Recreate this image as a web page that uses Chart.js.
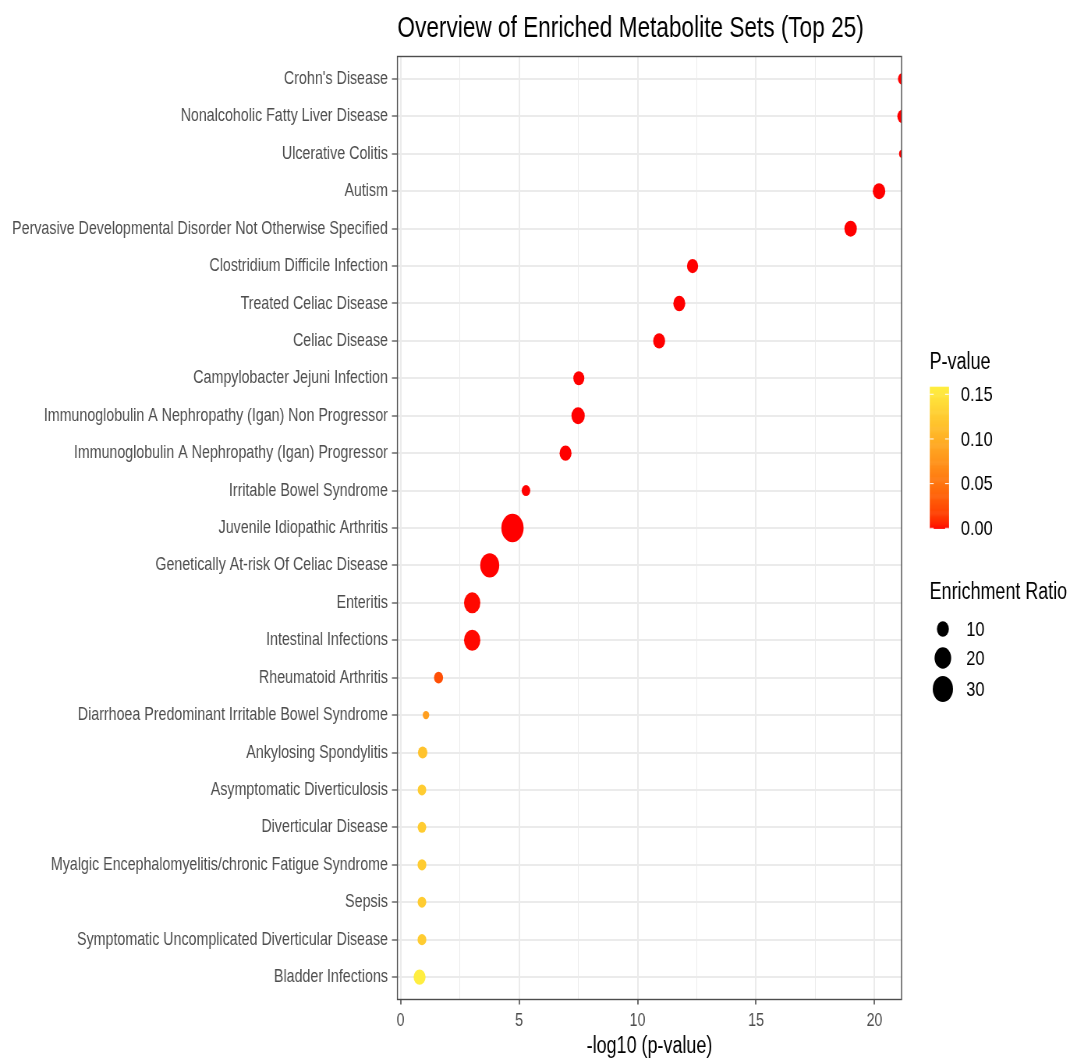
<!DOCTYPE html>
<html>
<head>
<meta charset="utf-8">
<script src="https://cdn.jsdelivr.net/npm/chart.js@4"></script>
<style>
  html, body { margin: 0; padding: 0; background: #ffffff; }
  canvas { display: block; }
</style>
</head>
<body>
<!-- The drawing surface is laid out 1381 px wide and shown 1077 px wide. -->
<canvas id="chart" width="1381" height="1058" style="width:1077px;height:1058px"></canvas>
<script>
// ---- Data -------------------------------------------------------------
const metaboliteSets = [
  "Crohn's Disease",
  "Nonalcoholic Fatty Liver Disease",
  "Ulcerative Colitis",
  "Autism",
  "Pervasive Developmental Disorder Not Otherwise Specified",
  "Clostridium Difficile Infection",
  "Treated Celiac Disease",
  "Celiac Disease",
  "Campylobacter Jejuni Infection",
  "Immunoglobulin A Nephropathy (Igan) Non Progressor",
  "Immunoglobulin A Nephropathy (Igan) Progressor",
  "Irritable Bowel Syndrome",
  "Juvenile Idiopathic Arthritis",
  "Genetically At-risk Of Celiac Disease",
  "Enteritis",
  "Intestinal Infections",
  "Rheumatoid Arthritis",
  "Diarrhoea Predominant Irritable Bowel Syndrome",
  "Ankylosing Spondylitis",
  "Asymptomatic Diverticulosis",
  "Diverticular Disease",
  "Myalgic Encephalomyelitis/chronic Fatigue Syndrome",
  "Sepsis",
  "Symptomatic Uncomplicated Diverticular Disease",
  "Bladder Infections"
];

// -log10(p-value) for each set
const negLog10P = [
  21.18, 21.19, 21.17, 20.19, 18.99,
  12.32, 11.76, 10.91, 7.52, 7.49,
  6.96, 5.29, 4.72, 3.76, 3.02,
  3.02, 1.60, 1.07, 0.93, 0.90,
  0.90, 0.90, 0.90, 0.90, 0.80
];

// enrichment ratio for each set
const enrichmentRatio = [
  6.5, 9.0, 3.2, 12.1, 12.1,
  9.7, 11.1, 11.1, 9.3, 13.7,
  11.1, 5.7, 38.7, 27.9, 20.8,
  20.8, 6.4, 3.3, 6.8, 5.7,
  5.7, 6.0, 5.7, 6.0, 11.1
];

const xMajorTicks = [0, 5, 10, 15, 20];
const xMinorTicks = [2.5, 7.5, 12.5, 17.5];
const pValueTicks = [0.00, 0.05, 0.10, 0.15];
const ratioTicks = [10, 20, 30];

// ---- Styling helpers --------------------------------------------------
const FONT = '"Liberation Sans", Arial, Helvetica, sans-serif';
const LOW_COLOR = [255, 0, 0];
const HIGH_COLOR = [255, 238, 64];

const pValues = negLog10P.map(v => Math.pow(10, -v));
const pMin = Math.min(...pValues);
const pMax = Math.max(...pValues);

function toLinear(c) { c /= 255; return c <= 0.04045 ? c / 12.92 : Math.pow((c + 0.055) / 1.055, 2.4); }
function fromLinear(c) { const v = c <= 0.0031308 ? 12.92 * c : 1.055 * Math.pow(c, 1 / 2.4) - 0.055; return Math.max(0, Math.min(255, Math.round(v * 255))); }
const XN = 0.95047, YN = 1.0, ZN = 1.08883;
function labF(t) { return t > 0.008856 ? Math.cbrt(t) : 7.787 * t + 16 / 116; }
function labFInv(t) { return t > 0.206893 ? t * t * t : (t - 16 / 116) / 7.787; }
function rgbToLab(rgb) {
  const r = toLinear(rgb[0]), g = toLinear(rgb[1]), b = toLinear(rgb[2]);
  const x = (0.4124564 * r + 0.3575761 * g + 0.1804375 * b) / XN;
  const y = (0.2126729 * r + 0.7151522 * g + 0.0721750 * b) / YN;
  const z = (0.0193339 * r + 0.1191920 * g + 0.9503041 * b) / ZN;
  const fx = labF(x), fy = labF(y), fz = labF(z);
  return [116 * fy - 16, 500 * (fx - fy), 200 * (fy - fz)];
}
function labToRgb(lab) {
  const fy = (lab[0] + 16) / 116, fx = fy + lab[1] / 500, fz = fy - lab[2] / 200;
  const x = labFInv(fx) * XN, y = labFInv(fy) * YN, z = labFInv(fz) * ZN;
  const r = 3.2404542 * x - 1.5371385 * y - 0.4985314 * z;
  const g = -0.9692660 * x + 1.8760108 * y + 0.0415560 * z;
  const b = 0.0556434 * x - 0.2040259 * y + 1.0572252 * z;
  return [fromLinear(r), fromLinear(g), fromLinear(b)];
}
const LOW_LAB = rgbToLab(LOW_COLOR), HIGH_LAB = rgbToLab(HIGH_COLOR);
function colorForP(p) {
  const t = Math.max(0, Math.min(1, (p - pMin) / (pMax - pMin)));
  const lab = LOW_LAB.map((v, i) => v + (HIGH_LAB[i] - v) * t);
  const c = labToRgb(lab);
  return `rgb(${c[0]},${c[1]},${c[2]})`;
}
function radiusForRatio(r) { return 2.3 * Math.sqrt(r); }

const isMajor = v => xMajorTicks.includes(v);

// ---- Panel border, drawn over the points ------------------------------
const panelBorder = {
  id: 'panelBorder',
  afterDatasetsDraw(chart) {
    const { ctx, chartArea: a } = chart;
    ctx.save();
    ctx.strokeStyle = '#4d4d4d';
    ctx.lineWidth = 1.4;
    ctx.strokeRect(a.left, a.top, a.right - a.left, a.bottom - a.top);
    ctx.restore();
  }
};

// ---- Colour bar and size legend ---------------------------------------
const sideLegends = {
  id: 'sideLegends',
  afterDraw(chart) {
    const ctx = chart.ctx;
    ctx.save();
    ctx.textBaseline = 'middle';
    ctx.textAlign = 'left';
    ctx.fillStyle = '#000000';

    // P-value colour bar
    const left = 1192.3, width = 24.5, top = 386.7, bottom = 528.3;
    ctx.font = `23px ${FONT}`;
    ctx.fillText('P-value', 1192, 363);
    const nbin = 150, h = (bottom - top) / nbin;
    for (let i = 0; i < nbin; i++) {
      const p = pMin + (pMax - pMin) * (i + 0.5) / nbin;
      ctx.fillStyle = colorForP(p);
      ctx.fillRect(left, bottom - (i + 1) * h, width, h + 0.6);
    }
    ctx.font = `21px ${FONT}`;
    pValueTicks.forEach(p => {
      const y = bottom - (p - pMin) / (pMax - pMin) * (bottom - top);
      ctx.strokeStyle = '#ffffff';
      ctx.lineWidth = 1;
      ctx.beginPath();
      ctx.moveTo(left, y); ctx.lineTo(left + width / 5, y);
      ctx.moveTo(left + width, y); ctx.lineTo(left + width - width / 5, y);
      ctx.stroke();
      ctx.fillStyle = '#000000';
      ctx.fillText(p.toFixed(2), 1232, y + 1);
    });

    // Enrichment Ratio size keys
    ctx.font = `23px ${FONT}`;
    ctx.fillText('Enrichment Ratio', 1192, 593);
    const keyY = [629, 658, 689];
    ctx.font = `21px ${FONT}`;
    ratioTicks.forEach((r, i) => {
      ctx.fillStyle = '#000000';
      ctx.beginPath();
      ctx.arc(1209, keyY[i], radiusForRatio(r) + 0.4, 0, Math.PI * 2);
      ctx.fill();
      ctx.fillText(String(r), 1239, keyY[i] + 1);
    });
    ctx.restore();
  }
};

// ---- Chart ------------------------------------------------------------
Chart.defaults.font.family = FONT;

new Chart(document.getElementById('chart'), {
  type: 'scatter',
  data: {
    datasets: [{
      data: negLog10P.map((x, i) => ({ x: x, y: i })),
      pointRadius: enrichmentRatio.map(radiusForRatio),
      pointHoverRadius: enrichmentRatio.map(radiusForRatio),
      pointBackgroundColor: pValues.map(colorForP),
      pointBorderWidth: 0,
      pointBorderColor: 'rgba(0,0,0,0)',
      clip: 0
    }]
  },
  options: {
    responsive: false,
    animation: false,
    devicePixelRatio: 1,
    layout: { padding: { left: 0, right: 225, top: 0, bottom: 0 } },
    plugins: {
      legend: { display: false },
      tooltip: { enabled: false },
      title: {
        display: true,
        text: 'Overview of Enriched Metabolite Sets (Top 25)',
        align: 'start',
        fullSize: false,
        color: '#000000',
        font: { size: 29, weight: 'normal', lineHeight: 1.2 },
        padding: { top: 12, bottom: 9.7 }
      }
    },
    scales: {
      x: {
        type: 'linear',
        min: -0.135,
        max: 21.14,
        bounds: 'data',
        afterBuildTicks(scale) {
          scale.ticks = [...xMajorTicks, ...xMinorTicks].sort((a, b) => a - b).map(v => ({ value: v }));
        },
        afterFit(scale) { scale.height = 58.5; },
        ticks: {
          autoSkip: false,
          maxRotation: 0,
          padding: 5,
          color: '#4D4D4D',
          font: { size: 18.3 },
          callback: v => (isMajor(v) ? String(v) : '')
        },
        grid: {
          color: '#EBEBEB',
          lineWidth: ctx => (ctx.tick && isMajor(ctx.tick.value) ? 2 : 1),
          tickColor: ctx => (ctx.tick && isMajor(ctx.tick.value) ? '#333333' : 'rgba(0,0,0,0)'),
          tickWidth: 1.4,
          tickLength: 5
        },
        border: { display: false },
        title: {
          display: true,
          text: '-log10 (p-value)',
          color: '#000000',
          font: { size: 23, lineHeight: 1 },
          padding: 0
        }
      },
      y: {
        type: 'linear',
        reverse: true,
        min: -0.6,
        max: metaboliteSets.length - 1 + 0.6,
        bounds: 'data',
        afterBuildTicks(scale) {
          scale.ticks = metaboliteSets.map((_, i) => ({ value: i }));
        },
        afterFit(scale) { scale.width = 509.6; },
        ticks: {
          autoSkip: false,
          padding: 5.2,
          color: '#4D4D4D',
          font: { size: 18.25 },
          callback: v => metaboliteSets[v]
        },
        grid: {
          color: '#EBEBEB',
          lineWidth: 2,
          tickColor: '#333333',
          tickWidth: 1.1,
          tickLength: 7
        },
        border: { display: false }
      }
    }
  },
  plugins: [panelBorder, sideLegends]
});
</script>
</body>
</html>
